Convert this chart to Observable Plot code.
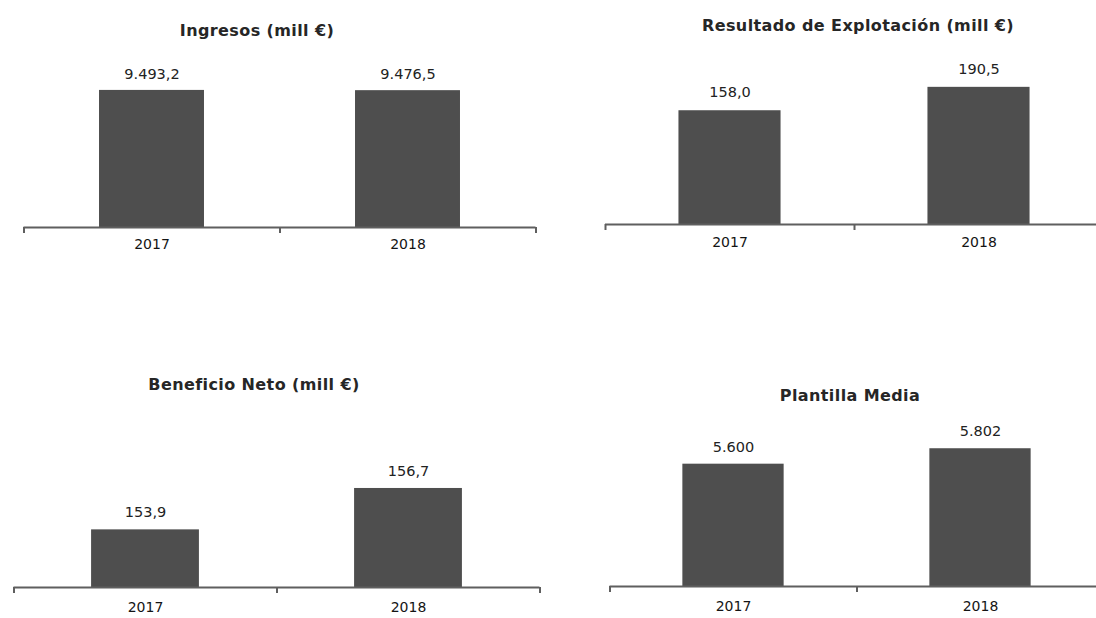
<!DOCTYPE html>
<html>
<head>
<meta charset="utf-8">
<script src="https://cdn.jsdelivr.net/npm/d3@7"></script>
<script src="https://cdn.jsdelivr.net/npm/@observablehq/plot@0.6"></script>
<style>
  html, body { margin: 0; padding: 0; background: #fff; }
  body { width: 1096px; height: 618px; overflow: hidden; position: relative; font-family: "DejaVu Sans", Verdana, sans-serif; }
  .panel { position: absolute; }
  .panel svg { max-width: none !important; }
  .title { position: absolute; transform: translate(-50%, -50%); white-space: nowrap; font-weight: bold; font-size: 16px; color: #262626; letter-spacing: 0.4px; }
</style>
</head>
<body>
<script>
// ---- data ----
const years = [2017, 2018];
const ingresos = [9493.2, 9476.5];
const resultado = [158.0, 190.5];
const beneficio = [153.9, 156.7];
const plantilla = [5600, 5802];
const titles = ["Ingresos (mill €)", "Resultado de Explotación (mill €)", "Beneficio Neto (mill €)", "Plantilla Media"];
const decimals = [1, 1, 1, 0];
const yDomains = [[0, 10000], [0, 200], [150, 160], [4000, 6000]];

// ---- layout (styles only) ----
const layout = [
  {left: 0,   top: 40,  width: 548, height: 225, mL: 23.5, mR: 12.5, mT: 42.6, mB: 38, dy: -16, yearPad: 12, tx: 257, ty: 30},
  {left: 548, top: 40,  width: 560, height: 225, mL: 57,   mR: 5,    mT: 40,   mB: 41, dy: -18, yearPad: 13, tx: 858, ty: 25},
  {left: 0,   top: 400, width: 548, height: 215, mL: 13.5, mR: 8.5,  mT: 39.2, mB: 28, dy: -17, yearPad: 15, tx: 254, ty: 384},
  {left: 548, top: 400, width: 560, height: 215, mL: 61.5, mR: 4.5,  mT: 33.1, mB: 29, dy: -17, yearPad: 15, tx: 850, ty: 395}
];
const series = [ingresos, resultado, beneficio, plantilla];
const barColor = "#4e4e4e";
const axisColor = "#5f5f5f";
const barHalf = 0.205;

const es = d3.formatLocale({decimal: ",", thousands: ".", grouping: [3], currency: ["", " €"]});
const boundaries = years.map(y => y - 0.5).concat([years[years.length - 1] + 0.5]);

series.forEach((vals, i) => {
  const L = layout[i];
  const data = years.map((year, j) => ({year, value: vals[j]}));
  const fmt = es.format(",." + decimals[i] + "f");
  const yMin = yDomains[i][0];
  const chart = Plot.plot({
    width: L.width,
    height: L.height,
    marginLeft: L.mL,
    marginRight: L.mR,
    marginTop: L.mT,
    marginBottom: L.mB,
    style: {fontFamily: "DejaVu Sans, Verdana, sans-serif", background: "transparent", overflow: "visible", maxWidth: "none"},
    x: {domain: [boundaries[0], boundaries[boundaries.length - 1]], label: null},
    y: {domain: yDomains[i], axis: null, label: null},
    marks: [
      Plot.rectY(data, {x1: d => d.year - barHalf, x2: d => d.year + barHalf, y1: () => yMin, y2: "value", fill: barColor}),
      Plot.ruleY([yMin], {stroke: axisColor, strokeWidth: 2}),
      Plot.axisX({ticks: boundaries, tickSize: 6, tickFormat: () => "", stroke: axisColor, strokeWidth: 2, label: null}),
      Plot.axisX({ticks: years, tickSize: 0, tickPadding: L.yearPad, tickFormat: d => String(d), fontSize: 14, fill: "#141414", label: null}),
      Plot.text(data, {x: "year", y: "value", text: d => fmt(d.value), dy: L.dy, fontSize: 14.5, fill: "#222"})
    ]
  });
  const div = document.createElement("div");
  div.className = "panel";
  div.style.left = L.left + "px";
  div.style.top = L.top + "px";
  div.style.width = L.width + "px";
  div.style.height = L.height + "px";
  div.appendChild(chart);
  document.body.appendChild(div);

  const t = document.createElement("div");
  t.className = "title";
  t.style.left = L.tx + "px";
  t.style.top = L.ty + "px";
  t.textContent = titles[i];
  document.body.appendChild(t);
});
</script>
</body>
</html>
